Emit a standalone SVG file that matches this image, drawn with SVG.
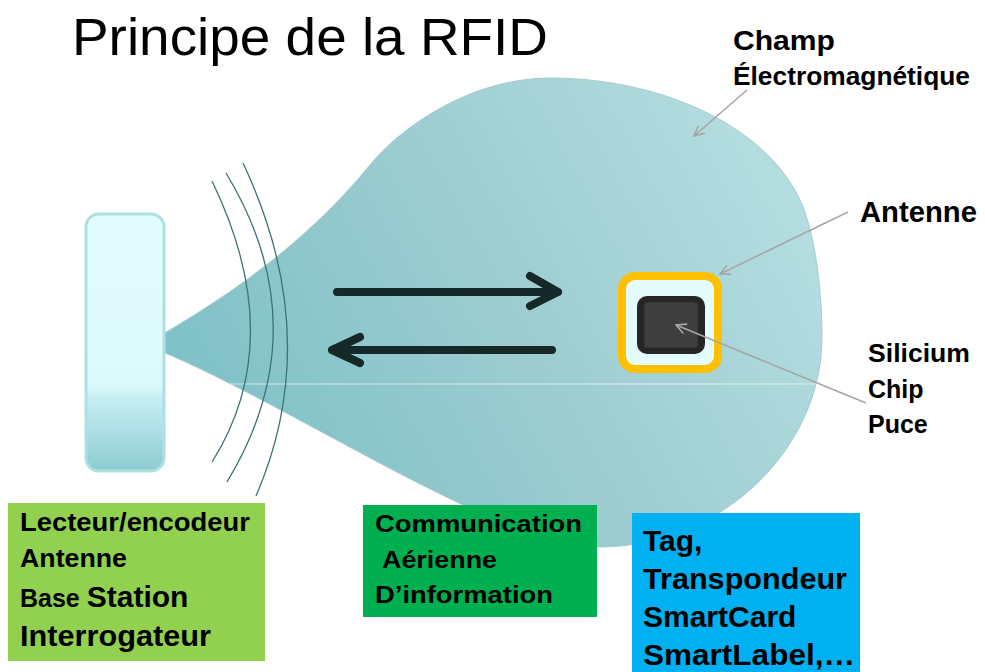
<svg xmlns="http://www.w3.org/2000/svg" width="985" height="672" viewBox="0 0 985 672">
<style>
text{font-family:"Liberation Sans",Arial,sans-serif;fill:#000}
.b{font-weight:bold}
.ptr{stroke:#a6a6a6;stroke-width:1.6;fill:none}
.big{stroke:#162828;stroke-width:8;fill:none;stroke-linecap:round;stroke-linejoin:round}
.wave{stroke:#3d7376;stroke-width:1.3;fill:none}
</style>
<defs>
<linearGradient id="gField" gradientUnits="userSpaceOnUse" x1="800" y1="100" x2="220" y2="420">
<stop offset="0" stop-color="#b8e0e3"/>
<stop offset="0.55" stop-color="#9cccd0"/>
<stop offset="1" stop-color="#7fc2c7"/>
</linearGradient>
<linearGradient id="gReader" x1="0" y1="0" x2="0" y2="1">
<stop offset="0" stop-color="#e2fdfd"/>
<stop offset="0.66" stop-color="#dcfafc"/>
<stop offset="0.72" stop-color="#c6eef2"/>
<stop offset="1" stop-color="#8ccbd1"/>
</linearGradient>
<clipPath id="cField">
<path d="M163,334 C220,300 300,250 370,165 C400,128 470,78 550,78 C660,78 765,125 800,200 C815,232 822,290 822,337 C822,450 720,547 600,547 C500,547 300,410 163,352 Z"/>
</clipPath>
<marker id="open" viewBox="0 0 12 12" refX="11" refY="6" markerWidth="12" markerHeight="12" markerUnits="userSpaceOnUse" orient="auto">
<path d="M1,1 L11,6 L1,11" fill="none" stroke="#a6a6a6" stroke-width="1.6"/>
</marker>
</defs>
<rect width="985" height="672" fill="#ffffff"/>

<g id="title">
<text x="72" y="55" font-size="51" textLength="476" lengthAdjust="spacingAndGlyphs">Principe de la RFID</text>
</g>

<g id="field">
<path d="M163,334 C220,300 300,250 370,165 C400,128 470,78 550,78 C660,78 765,125 800,200 C815,232 822,290 822,337 C822,450 720,547 600,547 C500,547 300,410 163,352 Z" fill="url(#gField)" stroke="#a7cbce" stroke-width="1"/>
<line x1="160" y1="384" x2="830" y2="384" stroke="#ffffff" stroke-opacity="0.4" stroke-width="1.5" clip-path="url(#cField)"/>
</g>

<g id="waves">
<path class="wave" d="M212,181 Q289,340 212,462"/>
<path class="wave" d="M226,173 Q320,328 227,482"/>
<path class="wave" d="M243,163 Q325,337 256,496"/>
</g>

<g id="reader">
<rect x="86" y="214" width="78" height="257" rx="13" fill="url(#gReader)" stroke="#ade0e3" stroke-width="3"/>
</g>

<g id="tag">
<rect x="622" y="276" width="96" height="93" rx="13" fill="#e5fcfd" stroke="#ffc000" stroke-width="8"/>
<rect x="637" y="296" width="68" height="58" rx="10" fill="#262626"/>
<rect x="644" y="302" width="54" height="46" rx="4" fill="#3f3f3f" stroke="#2e2e2e" stroke-width="1"/>
</g>

<g id="connectors">
<path class="big" d="M337,292 L558,292 M530,276 L558,292 L530,306"/>
<path class="big" d="M552,350 L332,350 M360,337 L332,350 L360,363"/>
<line class="ptr" x1="747" y1="90" x2="694" y2="136" marker-end="url(#open)"/>
<line class="ptr" x1="848" y1="212" x2="720" y2="274" marker-end="url(#open)"/>
<line class="ptr" x1="866" y1="403" x2="676" y2="325" marker-end="url(#open)"/>
</g>

<g id="labels">
<text class="b" x="733" y="50" font-size="28" textLength="102" lengthAdjust="spacingAndGlyphs">Champ</text>
<text class="b" x="733" y="85" font-size="25" textLength="237" lengthAdjust="spacingAndGlyphs">Électromagnétique</text>
<text class="b" x="860" y="222" font-size="29" textLength="117" lengthAdjust="spacingAndGlyphs">Antenne</text>
<text class="b" x="868" y="362" font-size="25" textLength="102" lengthAdjust="spacingAndGlyphs">Silicium</text>
<text class="b" x="868" y="398" font-size="25">Chip</text>
<text class="b" x="868" y="433" font-size="25">Puce</text>
</g>

<g id="box-reader">
<rect x="8" y="503" width="257" height="158" fill="#92d050"/>
<text class="b" x="20" y="531" font-size="25" textLength="230" lengthAdjust="spacingAndGlyphs">Lecteur/encodeur</text>
<text class="b" x="20" y="567" font-size="25" textLength="107" lengthAdjust="spacingAndGlyphs">Antenne</text>
<text class="b" x="20" y="607" font-size="25"><tspan>Base </tspan><tspan font-size="30">Station</tspan></text>
<text class="b" x="20" y="646" font-size="30" textLength="191" lengthAdjust="spacingAndGlyphs">Interrogateur</text>
</g>

<g id="box-comm">
<rect x="363" y="505" width="234" height="112" fill="#00b050"/>
<text class="b" x="375" y="532" font-size="24" textLength="207" lengthAdjust="spacingAndGlyphs">Communication</text>
<text class="b" x="382" y="568" font-size="24" textLength="115" lengthAdjust="spacingAndGlyphs">Aérienne</text>
<text class="b" x="375" y="603" font-size="24" textLength="178" lengthAdjust="spacingAndGlyphs">D’information</text>
</g>

<g id="box-tag">
<rect x="632" y="513" width="228" height="159" fill="#00b0f0"/>
<text class="b" x="643" y="551" font-size="30">Tag,</text>
<text class="b" x="643" y="589" font-size="30" textLength="204" lengthAdjust="spacingAndGlyphs">Transpondeur</text>
<text class="b" x="643" y="627" font-size="30">SmartCard</text>
<text class="b" x="643" y="665" font-size="30" textLength="212" lengthAdjust="spacingAndGlyphs">SmartLabel,…</text>
</g>
</svg>
